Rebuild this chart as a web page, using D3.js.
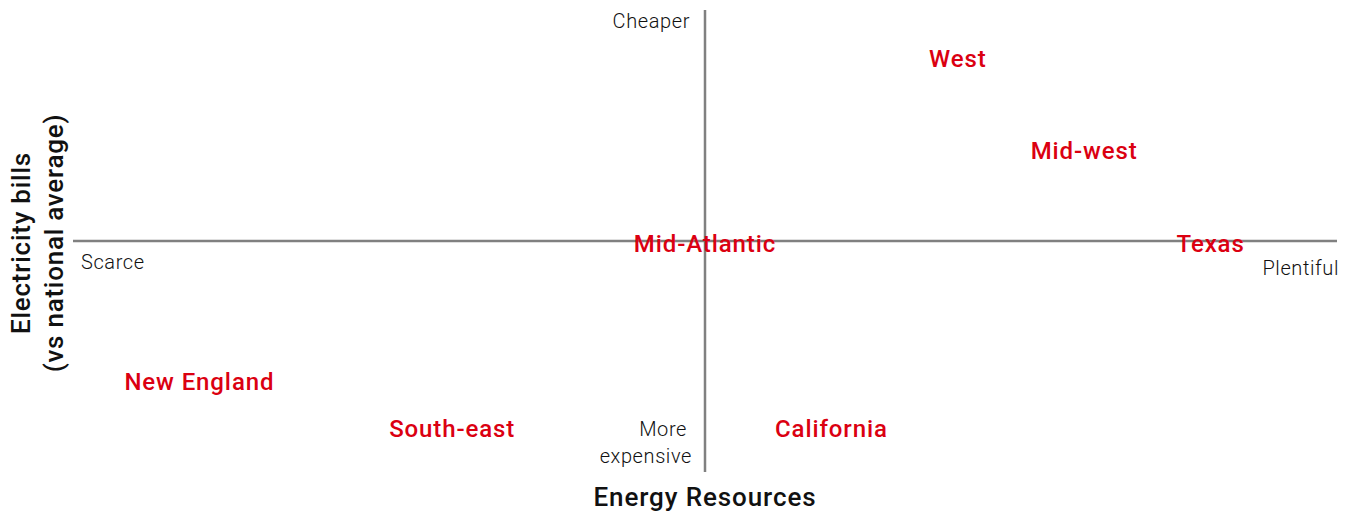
<!DOCTYPE html>
<html>
<head>
<meta charset="utf-8">
<script src="https://cdn.jsdelivr.net/npm/d3@7"></script>
<style>
  body { margin: 0; background: #fff; }
  svg text { font-family: Roboto, "Liberation Sans", Arial, sans-serif; }
</style>
</head>
<body>
<div id="chart"></div>
<script>
const WIDTH = 1355,
    HEIGHT = 516;

// region positions: energy resources (scarce -> plentiful), bills (expensive -> cheaper)
const regions = ["West", "Mid-west", "Mid-Atlantic", "Texas", "New England", "South-east", "California"];
const resources = [4, 6, 0, 8, -8, -4, 2];
const bills = [8, 4, 0, 0, -6, -8, -8];
const domainX = [-10, 10];
const domainY = [-10, 10];

const RED = "#db0011";

const x = d3.scaleLinear().domain(domainX).range([73, 1337]);
const y = d3.scaleLinear().domain(domainY).range([472, 10]);

const svg = d3.select("#chart")
    .append("svg")
    .attr("width", WIDTH)
    .attr("height", HEIGHT);

// quadrant axes
svg.append("line")
    .attr("x1", x(domainX[0])).attr("x2", x(domainX[1]))
    .attr("y1", y(0)).attr("y2", y(0))
    .attr("stroke", "#808080").attr("stroke-width", 2.5);

svg.append("line")
    .attr("x1", x(0)).attr("x2", x(0))
    .attr("y1", y(domainY[1])).attr("y2", y(domainY[0]))
    .attr("stroke", "#808080").attr("stroke-width", 2.5);

// end labels
const ends = svg.append("g")
    .attr("font-size", "20px")
    .attr("font-weight", 300)
    .attr("letter-spacing", "0.6px")
    .attr("fill", "#111");

ends.append("text").text("Cheaper")
    .attr("x", x(0) - 15).attr("y", 28)
    .attr("text-anchor", "end");

ends.append("text").text("More")
    .attr("x", x(0) - 18).attr("y", 436)
    .attr("text-anchor", "end");
ends.append("text").text("expensive")
    .attr("x", x(0) - 13).attr("y", 463)
    .attr("text-anchor", "end");

ends.append("text").text("Scarce")
    .attr("x", x(domainX[0]) + 8).attr("y", 269);

ends.append("text").text("Plentiful")
    .attr("x", x(domainX[1]) + 2).attr("y", 275)
    .attr("text-anchor", "end");

// region labels
svg.append("g")
    .selectAll("text")
    .data(regions)
    .join("text")
    .text(d => d)
    .attr("x", (d, i) => x(resources[i]))
    .attr("y", (d, i) => y(bills[i]))
    .attr("dy", "0.45em")
    .attr("text-anchor", "middle")
    .attr("font-size", "24px")
    .attr("font-weight", 500)
    .attr("letter-spacing", "0.9px")
    .attr("fill", RED);

// axis titles
svg.append("text")
    .text("Energy Resources")
    .attr("x", x(0))
    .attr("y", 506)
    .attr("text-anchor", "middle")
    .attr("font-size", "26px")
    .attr("font-weight", 500)
    .attr("letter-spacing", "0.9px")
    .attr("fill", "#111");

const yTitle = svg.append("text")
    .attr("transform", `translate(30, ${y(0) + 2}) rotate(-90)`)
    .attr("text-anchor", "middle")
    .attr("font-size", "26px")
    .attr("font-weight", 500)
    .attr("letter-spacing", "0.75px")
    .attr("fill", "#111");
yTitle.append("tspan").attr("x", 0).attr("dy", "0").text("Electricity bills");
yTitle.append("tspan").attr("x", 0).attr("dy", "1.25em").text("(vs national average)");
</script>
</body>
</html>
